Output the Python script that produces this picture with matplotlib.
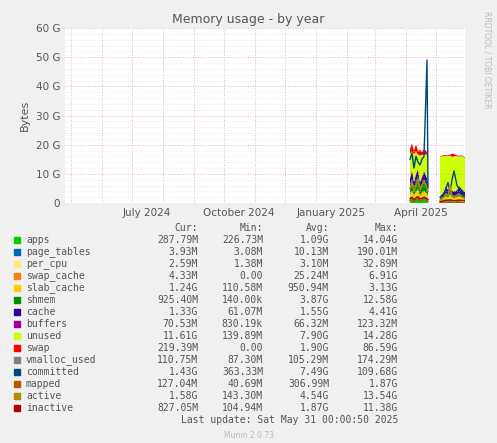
import matplotlib
matplotlib.use("Agg")
import matplotlib.pyplot as plt
import matplotlib.dates as mdates
import matplotlib.ticker as mticker
import numpy as np
from datetime import datetime

nan = np.nan
dates = ["2025-04-05","2025-04-07","2025-04-09","2025-04-11","2025-04-13","2025-04-15","2025-04-17","2025-04-19","2025-04-22","2025-04-23",
         "2025-04-24",
         "2025-05-05","2025-05-07","2025-05-09","2025-05-11","2025-05-13","2025-05-15","2025-05-17","2025-05-19","2025-05-22","2025-05-24","2025-05-27","2025-05-30"]
apps        = [1.5,2.0,1.2,1.8,2.5,1.0,1.6,2.2,1.4,1.0, nan, 0.3,0.4,0.6,0.9,0.5,1.5,0.6,0.4,0.8,1.0,0.5,0.3]
page_tables = [0.1]*10 + [nan] + [0.01]*12
per_cpu     = [0.03]*10 + [nan] + [0.03]*12
swap_cache  = [0.1,0.2,0.1,0.3,0.1,0.2,0.1,0.2,0.1,0.1, nan, 0.0,0.0,0.0,0.1,0.0,0.0,0.0,0.0,0.0,0.0,0.0,0.0]
slab_cache  = [1.5,1.8,1.4,1.6,2.0,1.3,1.7,1.5,1.6,1.4, nan, 0.9,1.0,1.1,1.3,1.2,1.5,1.3,1.1,1.2,1.3,1.2,1.2]
shmem       = [3.0,4.0,2.5,3.5,4.5,2.8,3.2,4.0,3.0,2.5, nan, 0.3,0.5,0.8,1.2,0.9,1.0,0.8,0.9,1.0,1.1,0.9,0.9]
cache       = [2.0,3.0,1.8,2.5,2.2,1.6,2.0,2.8,2.2,1.8, nan, 0.8,1.0,1.5,2.5,1.8,1.6,1.4,1.5,1.3,2.5,2.0,1.3]
buffers     = [0.2,0.3,0.2,0.3,0.2,0.2,0.3,0.2,0.2,0.2, nan, 0.07,0.08,0.1,0.1,0.08,0.1,0.08,0.07,0.07,0.08,0.07,0.07]
unused      = [8.5,6.0,9.5,7.5,5.0,9.0,7.5,5.5,8.0,9.5, nan, 13.5,13.0,12.0,10.0,11.5,10.5,11.5,12.0,11.6,9.9,11.3,11.6]
swap        = [1.5,3.0,1.0,2.5,1.2,2.0,1.0,2.0,1.0,0.8, nan, 0.2,0.2,0.3,0.3,0.3,0.3,1.2,0.8,0.3,0.3,0.3,0.2]
vmalloc_used= [0.12]*10 + [nan] + [0.11]*12
committed   = [15.0,17.0,12.0,16.0,14.0,13.0,15.0,16.0,49.0,5.0, nan, 2.0,2.5,3.0,5.0,7.0,4.0,8.0,11.0,6.0,5.0,4.0,1.4]
mapped      = [0.8,1.2,0.6,1.0,1.5,0.7,1.0,1.4,0.9,0.6, nan, 0.1,0.1,0.2,0.3,0.2,0.3,0.2,0.2,0.2,0.3,0.2,0.13]
active      = [5.0,7.0,4.0,6.0,8.0,4.5,6.0,7.5,5.0,4.0, nan, 1.0,1.3,2.0,3.0,2.5,6.0,2.5,2.0,2.5,3.0,2.0,1.6]
inactive    = [1.5,2.0,1.2,1.8,2.2,1.4,1.6,2.0,1.5,1.2, nan, 0.5,0.6,0.8,1.0,0.9,1.1,0.9,0.8,0.9,1.0,0.9,0.8]

names = ["apps","page_tables","per_cpu","swap_cache","slab_cache","shmem","cache","buffers","unused","swap",
         "vmalloc_used","committed","mapped","active","inactive"]
colors = ["#00CC00","#0066B3","#FFE680","#FF8000","#FFCC00","#008F00","#330099","#990099","#CCFF00","#FF0000",
          "#808080","#00487D","#B35A00","#B38F00","#B30000"]
cur = ["287.79M","3.93M","2.59M","4.33M","1.24G","925.40M","1.33G","70.53M","11.61G","219.39M","110.75M","1.43G","127.04M","1.58G","827.05M"]
mn  = ["226.73M","3.08M","1.38M","0.00","110.58M","140.00k","61.07M","830.19k","139.89M","0.00","87.30M","363.33M","40.69M","143.30M","104.94M"]
avg = ["1.09G","10.13M","3.10M","25.24M","950.94M","3.87G","1.55G","66.32M","7.90G","1.90G","105.29M","7.49G","306.99M","4.54G","1.87G"]
mx  = ["14.04G","190.01M","32.89M","6.91G","3.13G","12.58G","4.41G","123.32M","14.28G","86.59G","174.29M","109.68G","1.87G","13.54G","11.38G"]

x = [datetime.strptime(d, "%Y-%m-%d") for d in dates]
stack = np.array([apps,page_tables,per_cpu,swap_cache,slab_cache,shmem,cache,buffers,unused,swap])
lines = [vmalloc_used,committed,mapped,active,inactive]

W, H = 497, 443
fig = plt.figure(figsize=(W/100, H/100), dpi=100, facecolor="#F0F0F0")
ax = fig.add_axes([65/W, 1-203/H, 400/W, 175/H], facecolor="white")
ax.stackplot(x, stack, colors=colors[:10], linewidth=0)
for v, c in zip(lines, colors[10:]):
    ax.plot(x, v, color=c, linewidth=1)
ax.set_xlim(datetime(2024,4,25), datetime(2025,5,30))
ax.set_ylim(0, 60)
ax.set_yticks(range(0, 61, 10))
ax.set_yticklabels(["0"] + [f"{v} G" for v in range(10, 61, 10)])
ax.xaxis.set_major_locator(mdates.MonthLocator())
ax.xaxis.set_major_formatter(mticker.NullFormatter())
ax.xaxis.set_minor_locator(mdates.MonthLocator(bymonth=[1,4,7,10], bymonthday=16))
ax.xaxis.set_minor_formatter(mdates.DateFormatter("%B %Y"))
ax.yaxis.set_minor_locator(mticker.MultipleLocator(2))
ax.grid(which="major", axis="x", color="#E0A0A0", linestyle=(0,(1,2)), linewidth=0.6)
ax.grid(which="major", axis="y", color="#E0A0A0", linestyle=(0,(1,2)), linewidth=0.6)
ax.grid(which="minor", axis="y", color="#DDDDDD", linestyle=(0,(1,2)), linewidth=0.5)
for s in ax.spines.values():
    s.set_visible(False)
ax.tick_params(which="both", length=0, labelsize=7.5, colors="#555555")
ax.set_ylabel("Bytes", fontsize=8, color="#555555")
fig.text(0.5, 1-20/H, "Memory usage - by year", ha="center", va="center", fontsize=9, color="#555555")
fig.text(487/W, 1-60/H, "RRDTOOL / TOBI OETIKER", rotation=270, ha="center", va="center", fontsize=5.5, color="#BBBBBB")

mono = "DejaVu Sans Mono"
fs = 7
y0 = 228
for h, xr in zip(["Cur:","Min:","Avg:","Max:"], [198,263,329,398]):
    fig.text(xr/W, 1-y0/H, h, ha="right", va="center", family=mono, fontsize=fs, color="#555555")
for i, n in enumerate(names):
    yy = 1-(240+12*i)/H
    fig.patches.append(plt.Rectangle((14/W, yy-3/H), 6/W, 6/H, transform=fig.transFigure, color=colors[i]))
    fig.text(26/W, yy, n, ha="left", va="center", family=mono, fontsize=fs, color="#555555")
    for vals, xr in zip([cur,mn,avg,mx], [198,263,329,398]):
        fig.text(xr/W, yy, vals[i], ha="right", va="center", family=mono, fontsize=fs, color="#555555")
fig.text(398/W, 1-420/H, "Last update: Sat May 31 00:00:50 2025", ha="right", va="center", family=mono, fontsize=fs, color="#555555")
fig.text(0.5, 1-435/H, "Munin 2.0.73", ha="center", va="center", fontsize=5.5, color="#BBBBBB")
fig.savefig("out.png", dpi=100, facecolor=fig.get_facecolor())
